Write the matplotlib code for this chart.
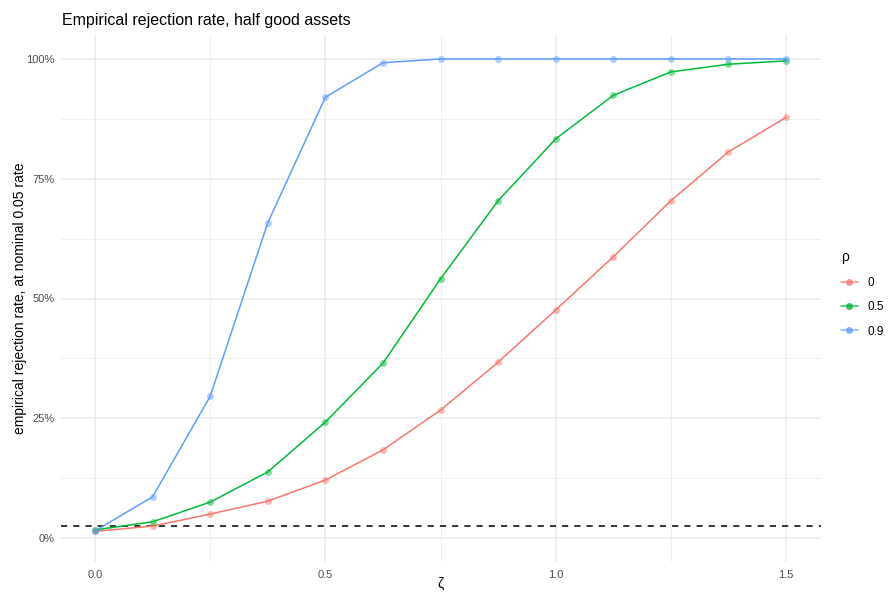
import matplotlib
matplotlib.use("Agg")
import matplotlib.pyplot as plt
from matplotlib.ticker import FixedLocator, FuncFormatter

plt.rcParams['font.family'] = ['Liberation Sans', 'DejaVu Sans']

# simulation grid and rejection rates
zeta = [0.0, 0.125, 0.25, 0.375, 0.5, 0.625, 0.75, 0.875, 1.0, 1.125, 1.25, 1.375, 1.5]
rho_labels = ['0', '0.5', '0.9']
rate_rho0 = [0.014, 0.025, 0.050, 0.077, 0.121, 0.184, 0.267, 0.367, 0.476,
             0.587, 0.704, 0.806, 0.878]
rate_rho05 = [0.017, 0.034, 0.075, 0.138, 0.242, 0.365, 0.541, 0.704, 0.833,
              0.924, 0.973, 0.989, 0.996]
rate_rho09 = [0.015, 0.086, 0.296, 0.658, 0.920, 0.992, 1.0, 1.0, 1.0,
              1.0, 1.0, 1.0, 1.0]
nominal_line = 0.025

colors = ['#F8766D', '#00BA38', '#619CFF']
series = [rate_rho0, rate_rho05, rate_rho09]

fig = plt.figure(figsize=(8.89, 5.95), dpi=100)
ax = fig.add_axes([60.5 / 889, 1 - 562 / 595, 760 / 889, 527 / 595])

for lab, col, ys in zip(rho_labels, colors, series):
    ax.plot(zeta, ys, color=col, lw=1.1, zorder=3)
    ax.plot(zeta, ys, ls='none', marker='o', ms=5, color=col, alpha=0.5,
            mec='none', zorder=4)
    # legend proxy
    ax.plot([], [], color=col, lw=1.1, marker='o', ms=5, mfc=col, mec='none',
            alpha=0.8, label=lab)

ax.axhline(nominal_line, color='black', ls=(0, (4, 4)), lw=1.1, zorder=2)

ax.set_xlim(-0.075, 1.575)
ax.set_ylim(-0.05, 1.05)
ax.xaxis.set_major_locator(FixedLocator([0, 0.5, 1.0, 1.5]))
ax.xaxis.set_minor_locator(FixedLocator([0.25, 0.75, 1.25]))
ax.yaxis.set_major_locator(FixedLocator([0, 0.25, 0.5, 0.75, 1.0]))
ax.yaxis.set_minor_locator(FixedLocator([0.125, 0.375, 0.625, 0.875]))
ax.xaxis.set_major_formatter(FuncFormatter(lambda v, p: f'{v:.1f}'))
ax.yaxis.set_major_formatter(FuncFormatter(lambda v, p: f'{v*100:.0f}%'))

ax.grid(which='major', color='#EBEBEB', lw=1.1)
ax.grid(which='minor', color='#EBEBEB', lw=0.55)
ax.set_axisbelow(True)
for s in ax.spines.values():
    s.set_visible(False)
ax.tick_params(which='both', length=0, labelsize=8, labelcolor='#4D4D4D')
ax.tick_params(axis='x', pad=6)
ax.tick_params(axis='y', pad=4)

ax.set_xlabel('ζ', fontsize=10, labelpad=0)
ax.set_ylabel('empirical rejection rate, at nominal 0.05 rate', fontsize=10, labelpad=0)
ax.yaxis.set_label_coords(-33 / 760, 0.5)
ax.xaxis.set_label_coords(0.5, -15 / 527)
fig.text(62 / 889, 1 - 20 / 595, 'Empirical rejection rate, half good assets',
         fontsize=11.5, va='center', ha='left')

leg = ax.legend(title='ρ', loc='center left', bbox_to_anchor=(830 / 889, 1 - 294 / 595),
                bbox_transform=fig.transFigure, frameon=False, fontsize=8.5,
                title_fontsize=10, handlelength=1.5, labelspacing=1.05,
                handletextpad=0.8)
leg._legend_box.align = 'left'

fig.savefig('out.png', dpi=100)
